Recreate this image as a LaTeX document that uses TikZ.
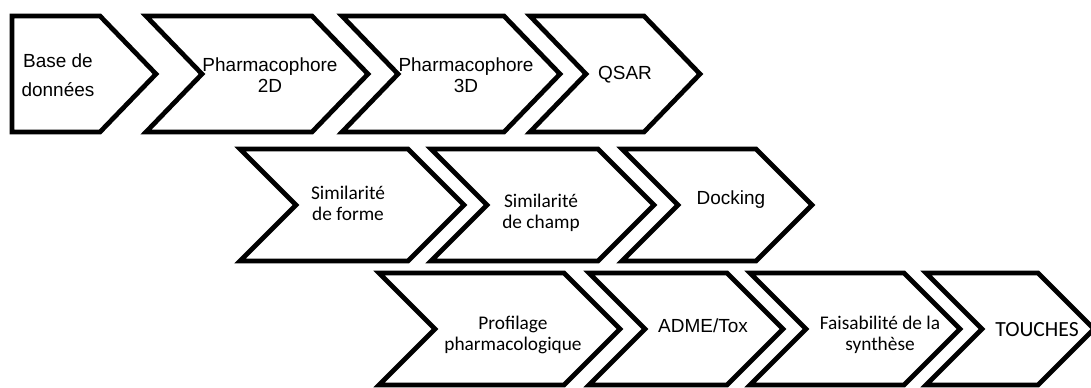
\documentclass[tikz,border=0pt]{standalone}
\usepackage{fontspec}
\setmainfont{Liberation Sans}
\newfontfamily\calibri{Carlito}

\begin{document}
\begin{tikzpicture}[
  x=0.02cm, y=-0.02cm,
  chev/.style={draw, line width=2.7pt, line join=miter},
  arial/.style={font=\fontsize{10.8}{12}\selectfont, align=center, inner sep=0pt},
  cal/.style={font=\calibri\fontsize{11}{12}\selectfont, align=center, inner sep=0pt}
]
  \useasboundingbox (0,0) rectangle (1091,387);

  % Row 1
  \draw[chev] (12,16) -- (100,16) -- (156,74) -- (100,132) -- (12,132) -- cycle;
  \draw[chev] (146,16) -- (312,16) -- (368,74) -- (312,132) -- (146,132) -- (202,74) -- cycle;
  \draw[chev] (342,16) -- (504,16) -- (560,74) -- (504,132) -- (342,132) -- (398,74) -- cycle;
  \draw[chev] (530,16) -- (644,16) -- (700,74) -- (644,132) -- (530,132) -- (586,74) -- cycle;

  \node[arial, font=\fontsize{10.8}{16.4}\selectfont] (base) at (58,75) {Base de\\données};
  \node[arial] (ph2d) at (270,75) {Pharmacophore\\2D};
  \node[arial] (ph3d) at (466,75) {Pharmacophore\\3D};
  \node[arial] (qsar) at (625,75) {QSAR};

  % Row 2
  \draw[chev] (240,149) -- (408,149) -- (464,205) -- (408,261) -- (240,261) -- (296,205) -- cycle;
  \draw[chev] (431,149) -- (598,149) -- (654,205) -- (598,261) -- (431,261) -- (487,205) -- cycle;
  \draw[chev] (622,149) -- (756,149) -- (812,205) -- (756,261) -- (622,261) -- (678,205) -- cycle;

  \node[cal] (simforme) at (348,203) {Similarité\\de forme};
  \node[cal] (simchamp) at (541,213) {Similarité\\de champ};
  \node[arial] (docking) at (731,200) {Docking};

  % Row 3
  \draw[chev] (379,273) -- (564,273) -- (620,329) -- (564,385) -- (379,385) -- (435,329) -- cycle;
  \draw[chev] (589,273) -- (727,273) -- (783,329) -- (727,385) -- (589,385) -- (645,329) -- cycle;
  \draw[chev] (750,273) -- (904,273) -- (960,329) -- (904,385) -- (750,385) -- (806,329) -- cycle;
  \draw[chev] (926,273) -- (1038,273) -- (1094,329) -- (1038,385) -- (926,385) -- (982,329) -- cycle;

  \node[cal] (profil) at (513,335) {Profilage\\pharmacologique};
  \node[arial] (adme) at (703,326) {ADME/Tox};
  \node[cal] (faisab) at (880,335) {Faisabilité de la\\synthèse};
  \node[cal, font=\calibri\fontsize{12.3}{14}\selectfont] (touches) at (1037,330) {TOUCHES};
\end{tikzpicture}
\end{document}
